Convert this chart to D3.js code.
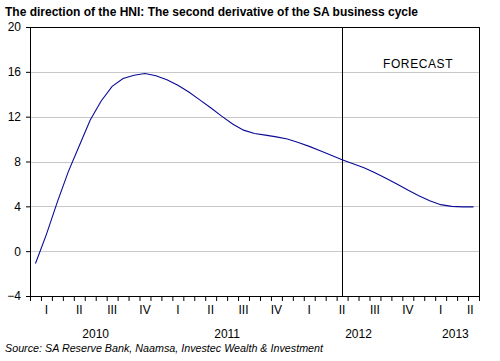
<!DOCTYPE html>
<html>
<head>
<meta charset="utf-8">
<script src="https://cdn.jsdelivr.net/npm/d3@7"></script>
<style>
  body { margin: 0; background: #fff; }
  svg { display: block; font-family: Arial, "Liberation Sans", sans-serif; }
</style>
</head>
<body>
<svg id="chart" width="500" height="361"></svg>
<script>
// monthly observations, 2010M01 .. 2013M05
const values = [
  -1.1, 1.5, 4.4, 7.1, 9.4, 11.7, 13.4, 14.7, 15.4, 15.7, 15.85, 15.65,
  15.3, 14.8, 14.2, 13.5, 12.8, 12.05, 11.35, 10.8, 10.5, 10.35, 10.2, 10.0,
  9.7, 9.35, 8.95, 8.55, 8.15, 7.8, 7.45, 7.0, 6.5, 6.0, 5.45, 4.95,
  4.5, 4.15, 4.0, 3.95, 3.95
];
const years = [2010, 2011, 2012, 2013];
const quarterLabels = ["I", "II", "III", "IV"];
const yTicks = [-4, 0, 4, 8, 12, 16, 20];
const forecastStart = 28; // 2012M05
const title = "The direction of the HNI: The second derivative of the SA business cycle";
const source = "Source: SA Reserve Bank, Naamsa, Investec Wealth & Investment";

const svg = d3.select("#chart");
const margin = { top: 27, right: 21, bottom: 65, left: 30 };
const width = 500 - margin.left - margin.right;
const height = 361 - margin.top - margin.bottom;

const g = svg.append("g").attr("transform", `translate(${margin.left},${margin.top})`);

// x is month index, each month is a band of width 1
const x = d3.scaleLinear().domain([0, values.length]).range([0, width]);
const y = d3.scaleLinear().domain([-4, 20]).range([height, 0]);

// gridlines
g.append("g")
  .selectAll("line")
  .data(yTicks.filter((t) => t > -4 && t < 20))
  .join("line")
  .attr("x1", 0)
  .attr("x2", width)
  .attr("y1", (d) => Math.round(y(d)) + 0.5)
  .attr("y2", (d) => Math.round(y(d)) + 0.5)
  .attr("stroke", "#c8c8c8")
  .attr("stroke-width", 1);

// y axis
const yAxis = g.append("g").call(d3.axisLeft(y).tickValues(yTicks).tickSize(4).tickPadding(5));
yAxis.select(".domain").remove();
yAxis.selectAll("text").attr("font-size", 12).attr("fill", "#000").attr("font-family", "Arial, 'Liberation Sans', sans-serif");

// x axis: a tick at every month
const xAxis = g.append("g")
  .attr("transform", `translate(0,${height})`)
  .call(d3.axisBottom(x).tickValues(d3.range(0, values.length + 1)).tickSize(5).tickFormat(""));
xAxis.select(".domain").remove();

// quarter labels
const quarters = [];
for (let m = 0; m < values.length; m += 3) {
  const end = Math.min(m + 3, values.length);
  quarters.push({ label: quarterLabels[(m / 3) % 4], mid: (m + end) / 2 + (end - m < 3 ? 0.2 : 0), year: Math.floor(m / 12) });
}
g.append("g")
  .selectAll("text")
  .data(quarters)
  .join("text")
  .attr("x", (d) => x(d.mid))
  .attr("y", height + 18)
  .attr("text-anchor", "middle")
  .attr("font-size", 12)
  .text((d) => d.label);

// year labels, centred under their quarter labels
g.append("g")
  .selectAll("text")
  .data(years)
  .join("text")
  .attr("x", (d, i) => x(d3.mean(quarters.filter((q) => q.year === i), (q) => q.mid)))
  .attr("y", height + 42)
  .attr("text-anchor", "middle")
  .attr("font-size", 12)
  .text((d) => d);

// forecast divider
g.append("line")
  .attr("x1", Math.round(x(forecastStart + 0.5)) + 0.5)
  .attr("x2", Math.round(x(forecastStart + 0.5)) + 0.5)
  .attr("y1", 0)
  .attr("y2", height)
  .attr("stroke", "#000");

g.append("text")
  .attr("x", 353)
  .attr("y", 41)
  .attr("font-size", 12)
  .attr("letter-spacing", 0.6)
  .text("FORECAST");

// the series
const line = d3.line()
  .x((d, i) => x(i + 0.5))
  .y((d) => y(d));

g.append("path")
  .datum(values)
  .attr("d", line)
  .attr("fill", "none")
  .attr("stroke", "#0a0a96")
  .attr("stroke-width", 1.1);

// frame
g.append("rect")
  .attr("x", 0.5)
  .attr("y", 0.5)
  .attr("width", width)
  .attr("height", height)
  .attr("fill", "none")
  .attr("stroke", "#000");

svg.append("text")
  .attr("x", 5)
  .attr("y", 16)
  .attr("font-size", 12)
  .attr("font-weight", "bold")
  .text(title);

svg.append("text")
  .attr("x", 5)
  .attr("y", 352)
  .attr("font-size", 11)
  .attr("font-style", "italic")
  .attr("textLength", 318)
  .attr("lengthAdjust", "spacingAndGlyphs")
  .text(source);
</script>
</body>
</html>
